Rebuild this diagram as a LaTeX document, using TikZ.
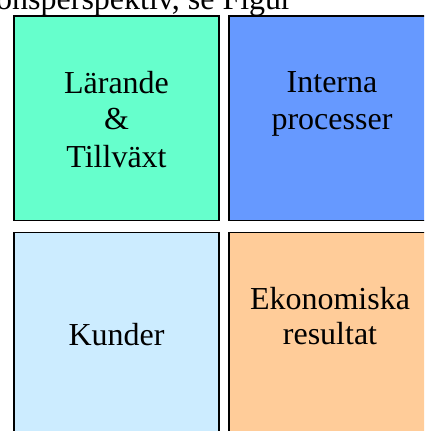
\documentclass[tikz,border=0pt]{standalone}
\usepackage{fontspec}
\setmainfont{Liberation Serif}
\begin{document}
\begin{tikzpicture}[x=1pt,y=-1pt,
  quad/.style={draw=black, line width=1.4pt, minimum width=205pt, minimum height=204.5pt, inner sep=0pt},
  lbl/.style={anchor=base, inner sep=0pt, font=\fontsize{32}{37}\selectfont}]
\definecolor{learncol}{HTML}{66FFCC}
\definecolor{proccol}{HTML}{6699FF}
\definecolor{custcol}{HTML}{CCECFF}
\definecolor{fincol}{HTML}{FFCC99}
\useasboundingbox (0,0) rectangle (424,431);
\clip (0,0) rectangle (424,431);
% running text above the figure
\node[anchor=base west, inner sep=0pt, font=\fontsize{32}{37}\selectfont] (caption) at (-4,9.5) {onsperspektiv, se Figur};
% the four perspectives
\node[quad, fill=learncol] (learn) at (116.5,118.25) {};
\node[quad, fill=proccol]  (proc)  at (331.5,118.25) {};
\node[quad, fill=custcol]  (cust)  at (116.5,334.5) {};
\node[quad, fill=fincol]   (fin)   at (331.5,334.5) {};
% labels
\node[lbl] (l1) at (116.5,93) {Lärande};
\node[lbl] (l2) at (116.5,129.5) {\&};
\node[lbl] (l3) at (116.5,167) {Tillväxt};
\node[lbl] (p1) at (332,92.5) {Interna};
\node[lbl] (p2) at (332,129.5) {processer};
\node[lbl] (c1) at (116.5,345.5) {Kunder};
\node[lbl] (f1) at (330,309.5) {Ekonomiska};
\node[lbl] (f2) at (330,344) {resultat};
\end{tikzpicture}
\end{document}
